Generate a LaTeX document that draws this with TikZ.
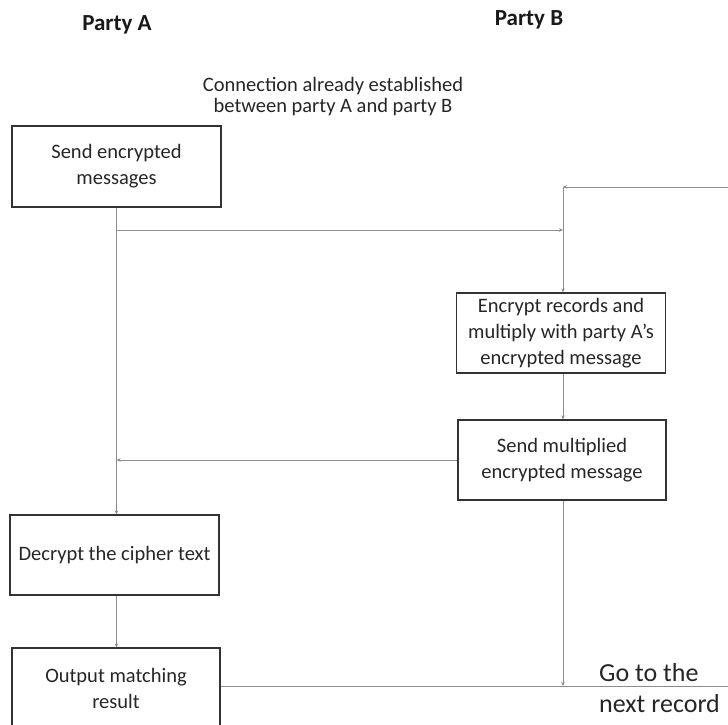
\documentclass[tikz,border=0pt]{standalone}
\usepackage{fontspec}
\setmainfont{Carlito}
\usetikzlibrary{arrows.meta}
\begin{document}
\begin{tikzpicture}[x=1pt,y=-1pt,
  box/.style={draw=black!80, line width=1.2pt, align=center, inner sep=0pt,
    text=black!85, font=\fontsize{20.5}{26}\selectfont,
    minimum width=208pt, minimum height=80pt},
  heading/.style={font=\bfseries\fontsize{23}{26}\selectfont, text=black!90},
  note/.style={align=center, text=black!85, font=\fontsize{20.5}{21}\selectfont},
  link/.style={draw=black!45, line width=1pt, -{Stealth[length=4pt,width=3.5pt]}},
  plain/.style={draw=black!45, line width=1pt}]
\useasboundingbox (0,0) rectangle (728,724);
\begin{scope}
\clip (0,0) rectangle (728,724);

% column headings and setup note
\node[heading] (partyA) at (117,25) {Party A};
\node[heading] (partyB) at (529,20) {Party B};
\node[note] (conn) at (333,97) {Connection already established\\between party A and party B};

% party A steps
\node[box, minimum width=209pt, minimum height=81pt] (send) at (116.5,166.5) {Send encrypted\\messages};
\node[box, minimum width=209pt] (decrypt) at (114.5,555) {Decrypt the cipher text};
\node[box, minimum height=81pt] (output) at (116,688.5) {Output matching\\result};

% party B steps
\node[box, minimum width=209pt] (encrypt) at (561,333) {Encrypt records and\\multiply with party A’s\\encrypted message};
\node[box] (multsend) at (562,460) {Send multiplied\\encrypted message};

% loop label
\node[anchor=west, align=left, text=black!85, font=\fontsize{26}{31}\selectfont, inner sep=0pt]
  (next) at (599,688) {Go to the\\next record};

% connector waypoints
\coordinate (fork) at (116.5,230);
\coordinate (loop) at (563,187);
\coordinate (loopin) at (728,187);
\coordinate (join) at (563,686);
\coordinate (exit) at (728,686);

% connectors
\draw[link] (send.south) -- (send.south |- decrypt.north);
\draw[link] (fork) -- (fork -| loop);
\draw[link] (loopin) -- (loop);
\draw[link] (loop) -- (loop |- encrypt.north);
\draw[link] (loop |- encrypt.south) -- (loop |- multsend.north);
\draw[link] (multsend.west) -- (multsend.west -| send.south);
\draw[link] (loop |- multsend.south) -- (join);
\draw[link] (decrypt.south -| send.south) -- (send.south |- output.north);
\draw[plain] (output.east |- join) -- (exit);
\end{scope}
\end{tikzpicture}
\end{document}
